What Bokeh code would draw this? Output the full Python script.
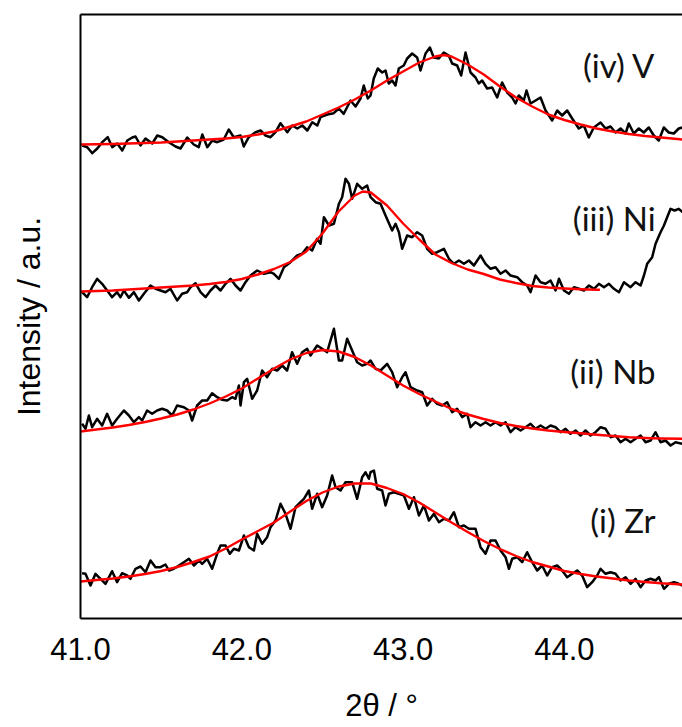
from bokeh.plotting import figure
from bokeh.models import Range1d, FixedTicker, LinearAxis, Label, PrintfTickFormatter
from bokeh.embed import file_html
from bokeh.resources import INLINE

# ---------------- data (2theta in degrees, intensity in a.u.) ----------------
offsets = {"Zr": 0, "Nb": 150, "Ni": 300, "V": 450}
names = ["(i) Zr", "(ii) Nb", "(iii) Ni", "(iv) V"]
keys = ["Zr", "Nb", "Ni", "V"]

# (iv) V measured
tt_V = [41.011, 41.042, 41.073, 41.104, 41.135, 41.169, 41.197, 41.228, 41.259, 41.290,
        41.321, 41.341, 41.372, 41.403, 41.445, 41.476, 41.507, 41.547, 41.589, 41.620,
        41.662, 41.702, 41.733, 41.755, 41.786, 41.817, 41.848, 41.888, 41.919, 41.950,
        41.992, 42.012, 42.043, 42.085, 42.116, 42.147, 42.178, 42.209, 42.240, 42.282,
        42.312, 42.344, 42.375, 42.406, 42.437, 42.468, 42.488, 42.530, 42.570, 42.601,
        42.632, 42.674, 42.705, 42.736, 42.756, 42.781,
        42.798, 42.818, 42.843, 42.870, 42.891, 42.911, 42.932, 42.953, 42.973, 43.004,
        43.025, 43.056, 43.087, 43.108, 43.139, 43.166, 43.190, 43.221, 43.252, 43.283,
        43.304, 43.335, 43.360, 43.387, 43.418, 43.449, 43.469, 43.490, 43.521, 43.552,
        43.583, 43.614, 43.645, 43.676, 43.697, 43.717, 43.748, 43.765, 43.790, 43.821,
        43.852, 43.883, 43.924, 43.955, 43.986, 44.017, 44.048, 44.089, 44.120, 44.151,
        44.182, 44.224, 44.255, 44.286, 44.317, 44.348, 44.379, 44.399, 44.430, 44.461,
        44.492, 44.523, 44.554, 44.585, 44.616, 44.647, 44.678, 44.709, 44.732]
int_V = [23, 21.3, 15.3, 20, 26.3, 31.3, 21.3, 25, 18, 28, 31, 32, 23, 30, 25, 33, 31.3, 26.3,
         22, 20, 31, 24, 21.3, 34, 21.3, 28, 26.3, 29, 39, 31.3, 33, 22, 31.3, 36.3, 38, 33,
         31.3, 36.3, 45.3, 36.3, 43, 40, 43, 38, 46.3, 43, 51.3, 54, 55.3, 60, 54.7, 68, 62,
         70, 83, 70,
         73, 90, 100, 96, 98, 85, 88, 83, 100, 103, 110, 115, 111, 98, 115, 121, 111, 110,
         116, 113, 105, 103, 93, 116, 96, 91, 85, 88, 80, 81, 71, 86, 76, 71, 65, 73, 68, 78,
         65, 68, 71, 58, 48, 58, 53, 58, 50, 40, 43, 31, 41, 46, 40, 42, 36, 40, 35, 45, 35,
         40, 36, 41, 33, 28, 41, 36, 35, 40, 41]

# (iii) Ni measured
tt_Ni = [41.010, 41.041, 41.072, 41.103, 41.134, 41.165, 41.196, 41.227, 41.248, 41.269,
         41.300, 41.331, 41.362, 41.393, 41.434, 41.465, 41.496, 41.527, 41.558, 41.599,
         41.630, 41.661, 41.682, 41.713, 41.744, 41.775, 41.806, 41.837, 41.868, 41.899,
         41.930, 41.961, 41.992, 42.023, 42.054, 42.095, 42.137, 42.178, 42.199, 42.230,
         42.261, 42.302, 42.343, 42.374, 42.405, 42.436, 42.467, 42.488, 42.509, 42.540,
         42.571, 42.602, 42.622, 42.643, 42.664, 42.684, 42.715, 42.746, 42.777,
         42.798, 42.829, 42.860, 42.891, 42.932, 42.953, 42.974, 42.994, 43.025, 43.056,
         43.087, 43.118, 43.149, 43.180, 43.211, 43.253, 43.284, 43.315, 43.346, 43.377,
         43.408, 43.439, 43.480, 43.511, 43.542, 43.573, 43.604, 43.635, 43.666, 43.707,
         43.738, 43.769, 43.790, 43.821, 43.852, 43.883, 43.914, 43.945, 43.966, 43.997,
         44.028, 44.059, 44.090, 44.121, 44.152, 44.183, 44.214, 44.245, 44.276, 44.307,
         44.338, 44.369, 44.410, 44.441, 44.472, 44.493, 44.513, 44.544, 44.565, 44.596,
         44.617, 44.637, 44.658, 44.683, 44.709, 44.732]
int_Ni = [26.3, 21.3, 31.3, 39.7, 34.7, 28, 21.3, 26.3, 21.3, 28, 20.7, 26.3, 18, 24.7, 33,
          29.7, 28, 26.3, 29.7, 18, 24.7, 26.3, 31.3, 35.3, 26.3, 21.3, 28, 33, 28, 34.7,
          39.7, 33, 28, 36.3, 43, 48, 44.7, 46.3, 44.7, 39.7, 51.3, 56.3, 63, 64.7, 71.3, 68,
          79.7, 74.7, 101.3, 93, 94.7, 114.7, 121.3, 139.7, 134.7, 119.7, 134.7, 129.7, 133,
          121.3, 116.3, 114.7, 103, 88, 94.7, 86.3, 69.7, 83, 81.3, 86.3, 83, 69.7, 64.7, 66.3,
          69.7, 59.7, 54.7, 58, 54.7, 58, 53, 63, 54.7, 49.7, 51.3, 44.7, 48, 43, 41.3, 36.3,
          33, 26.3, 43, 36.3, 34.7, 38, 28, 39.7, 28, 24.7, 31.3, 29.7, 28, 33, 29.7, 34.7,
          31.3, 34.7, 29.7, 26.3, 36.3, 31.3, 36.3, 33, 43, 54.7, 61.3, 74.7, 86.3, 93, 101.3,
          109.7, 108, 109.7, 106.3]

# (ii) Nb measured
tt_Nb = [41.010, 41.031, 41.052, 41.072, 41.103, 41.134, 41.165, 41.196, 41.227, 41.269,
         41.300, 41.331, 41.362, 41.382, 41.413, 41.444, 41.475, 41.506, 41.537, 41.568,
         41.599, 41.641, 41.672, 41.692, 41.723, 41.754, 41.785, 41.816, 41.847, 41.878,
         41.909, 41.940, 41.961, 41.982, 41.992, 42.013, 42.033, 42.064, 42.095, 42.126,
         42.157, 42.188, 42.219, 42.250, 42.281, 42.312, 42.343, 42.374, 42.405, 42.426,
         42.467, 42.498, 42.529, 42.571, 42.602, 42.622, 42.653, 42.684, 42.715, 42.746,
         42.777,
         42.798, 42.829, 42.860, 42.901, 42.932, 42.963, 42.994, 43.015, 43.046, 43.087,
         43.118, 43.149, 43.180, 43.211, 43.242, 43.273, 43.304, 43.335, 43.366, 43.397,
         43.418, 43.449, 43.480, 43.511, 43.542, 43.573, 43.604, 43.635, 43.666, 43.697,
         43.728, 43.759, 43.790, 43.821, 43.852, 43.883, 43.914, 43.945, 43.976, 44.007,
         44.038, 44.069, 44.100, 44.131, 44.162, 44.193, 44.224, 44.255, 44.286, 44.317,
         44.348, 44.379, 44.410, 44.441, 44.472, 44.503, 44.534, 44.565, 44.596, 44.627,
         44.658, 44.689, 44.732]
int_Nb = [44.7, 39.7, 53, 41.3, 49.7, 43, 54.7, 43, 49.7, 58, 53, 46.3, 51.3, 48, 58, 54.7,
          58, 59.7, 58, 53, 63, 61.3, 58, 48, 63, 68, 68, 75.3, 71.3, 68.7, 68, 71.3, 69.7,
          83, 63, 86.3, 89.7, 69.7, 78, 98, 91.3, 99.7, 98, 103, 98, 116.3, 104.7, 116.3,
          119.7, 113, 123, 119.7, 116.3, 139.7, 108, 108, 129.7, 118, 106.3, 103, 104.7,
          108, 99.7, 98, 104.7, 96.3, 81.3, 91.3, 96.3, 81.3, 78, 76.3, 63, 69.7, 64.7, 63,
          66.3, 56.3, 59.7, 51.3, 54.7, 41.3, 46.3, 43, 46.3, 43, 46.3, 43, 46.3, 36.3, 41.3,
          38, 41.3, 44.7, 39.7, 43, 39.7, 43, 41.3, 36.3, 39.7, 34.7, 38, 33, 38, 33, 36.3,
          41.3, 39.7, 31.3, 33, 26.3, 29.7, 26.3, 29.7, 33, 26.3, 28, 36.3, 26.3, 28, 23,
          26.3, 24.7]

# (i) Zr measured
tt_Zr = [41.010, 41.031, 41.062, 41.093, 41.124, 41.155, 41.196, 41.227, 41.258, 41.289,
         41.310, 41.341, 41.372, 41.403, 41.434, 41.465, 41.496, 41.527, 41.548, 41.579,
         41.610, 41.641, 41.672, 41.703, 41.734, 41.754, 41.785, 41.816, 41.847, 41.868,
         41.899, 41.926, 41.951, 41.982, 42.013, 42.044, 42.075, 42.095, 42.126, 42.157,
         42.178, 42.209, 42.240, 42.271, 42.302, 42.333, 42.364, 42.385, 42.416, 42.436,
         42.467, 42.498, 42.529, 42.560, 42.581, 42.612, 42.643, 42.684, 42.715, 42.746,
         42.767, 42.788,
         42.798, 42.819, 42.839, 42.870, 42.891, 42.912, 42.943, 42.974, 43.005, 43.036,
         43.067, 43.098, 43.129, 43.160, 43.191, 43.222, 43.253, 43.284, 43.315, 43.346,
         43.377, 43.408, 43.449, 43.480, 43.511, 43.542, 43.573, 43.604, 43.635, 43.656,
         43.676, 43.707, 43.738, 43.769, 43.800, 43.831, 43.862, 43.893, 43.924, 43.955,
         43.986, 44.017, 44.048, 44.079, 44.110, 44.141, 44.172, 44.203, 44.224, 44.255,
         44.286, 44.317, 44.348, 44.379, 44.410, 44.441, 44.472, 44.503, 44.534, 44.565,
         44.586, 44.617, 44.648, 44.679, 44.709, 44.732]
int_Zr = [45.3, 44.7, 33, 44.7, 39.7, 34.7, 47.3, 36.3, 45.3, 43, 39.7, 49.7, 52, 46.3, 58,
          51.3, 51.3, 54, 48, 49.7, 53, 56.3, 59.7, 53, 58, 54.7, 59.7, 49.7, 64.7, 73, 73,
          64.7, 69.7, 68, 83, 71.3, 68, 84.7, 74.7, 81.3, 91.3, 98, 114.7, 104.7, 89.7, 111.3,
          116.3, 119.7, 128, 109.7, 124.7, 111.3, 123, 143, 131.3, 128, 136.3, 136.3, 119.7,
          141.3, 146.3, 139.7,
          146.3, 148, 129.7, 128, 113, 124.7, 126.3, 124.7, 123, 109.7, 121.3, 103, 113, 98,
          104.7, 96.3, 99.7, 98, 106.3, 91.3, 93, 89.7, 89.7, 71.3, 64.7, 78, 78, 68, 61.3,
          49.7, 59.7, 61.3, 56.3, 66.3, 56.3, 48, 53, 43, 51.3, 53, 48, 41.3, 44.7, 48, 43,
          31.3, 36.3, 43, 49.7, 44.7, 46.3, 44.7, 38, 41.3, 34.7, 39.7, 31.3, 38, 39.7, 38,
          41.3, 29.7, 34.7, 36.3, 34.7, 33]

# fitted profiles (red)
fit_tt_V = [41.0, 41.1, 41.2, 41.3, 41.4, 41.5, 41.6, 41.7, 41.8, 41.9, 42.0, 42.1, 42.2,
            42.3, 42.4, 42.5, 42.6, 42.7, 42.8, 42.9, 43.0, 43.1, 43.2, 43.25, 43.3, 43.4,
            43.5, 43.6, 43.7, 43.8, 43.9, 44.0, 44.1, 44.2, 44.3, 44.4, 44.5, 44.6, 44.7, 44.732]
fit_V = [24, 24.2, 24.5, 25, 25.5, 26, 27, 28, 29, 30, 31.5, 34, 37, 42, 47, 54, 61, 69, 78,
         88, 97, 106, 112, 113.5, 112, 104, 94, 82, 71, 62, 54, 48.5, 44, 40, 37, 34.5, 32.5,
         31, 29.5, 29]
fit_tt_Ni = [41.0, 41.1, 41.2, 41.3, 41.4, 41.5, 41.6, 41.7, 41.8, 41.9, 42.0, 42.1, 42.2,
             42.3, 42.4, 42.5, 42.6, 42.7, 42.75, 42.8, 42.9, 43.0, 43.1, 43.2, 43.3, 43.4,
             43.5, 43.6, 43.7, 43.8, 43.9, 44.0, 44.1, 44.2, 44.22]
fit_Ni = [27, 27.5, 28, 29, 30, 31, 32, 33, 34.5, 36.5, 39.5, 44, 49.5, 56.5, 67, 85, 107,
          123, 127, 126, 113, 95, 79, 64, 55.5, 49, 44.5, 39, 35.5, 32.5, 31, 30, 29.3, 28.7,
          28.7]
fit_tt_Nb = [41.0, 41.1, 41.2, 41.3, 41.4, 41.5, 41.6, 41.7, 41.8, 41.9, 42.0, 42.1, 42.2,
             42.3, 42.4, 42.5, 42.6, 42.7, 42.8, 42.9, 43.0, 43.1, 43.2, 43.3, 43.4, 43.5,
             43.6, 43.7, 43.8, 43.9, 44.0, 44.1, 44.2, 44.3, 44.4, 44.5, 44.6, 44.732]
fit_Nb = [37, 39, 41, 43.5, 46.5, 50, 54, 59, 65, 72, 80, 90, 100, 109, 115.5, 118.5, 117,
          111.5, 103, 93, 83, 74.5, 67, 59.5, 54, 49.5, 45.5, 42.5, 40, 38, 36.5, 35.2, 33.8,
          32.5, 31.3, 30.5, 30, 29.7]
fit_tt_Zr = list(fit_tt_Nb)
fit_Zr = [37, 38.5, 40, 42, 44.5, 47.5, 51.5, 56.5, 62, 70, 79, 87.5, 96, 107, 117.5, 126,
          132, 135, 135, 130.5, 124.5, 116, 106, 96, 86.5, 77.5, 69.5, 62.5, 56.5, 52, 47.5,
          44.5, 42, 40, 38, 36.5, 35.2, 34]

x_ticks = [41.0, 42.0, 43.0, 44.0]

measured = {"V": (tt_V, int_V), "Ni": (tt_Ni, int_Ni), "Nb": (tt_Nb, int_Nb), "Zr": (tt_Zr, int_Zr)}
fitted = {"V": (fit_tt_V, fit_V), "Ni": (fit_tt_Ni, fit_Ni), "Nb": (fit_tt_Nb, fit_Nb), "Zr": (fit_tt_Zr, fit_Zr)}
label_pos = {"Zr": (44.565, 99), "Nb": (44.565, 248), "Ni": (44.565, 401), "V": (44.565, 554)}

# ---------------- figure ----------------
p = figure(width=682, height=727, x_range=Range1d(41.0, 44.732), y_range=Range1d(0, 604),
           output_backend="svg", toolbar_location=None,
           min_border_left=80, min_border_right=0, min_border_top=14, min_border_bottom=109)
p.outline_line_color = None
p.grid.visible = False
p.background_fill_color = "white"
p.border_fill_color = "white"

for k in keys:
    xs, ys = measured[k]
    p.line(xs, [v + offsets[k] for v in ys], line_color="black", line_width=2.5, line_join="round")
for k in keys:
    xs, ys = fitted[k]
    p.line(xs, [v + offsets[k] for v in ys], line_color="#ff0000", line_width=2.4, line_join="round")

for k, nm in zip(keys, names):
    lx, ly = label_pos[k]
    p.add_layout(Label(x=lx, y=ly, text=nm, text_align="right", text_baseline="middle",
                       text_font="Lato", text_font_size="33px", text_color="#111111"))

xa = p.xaxis[0]
xa.ticker = FixedTicker(ticks=x_ticks)
xa.formatter = PrintfTickFormatter(format="%.1f")
xa.major_label_text_font = "Liberation Sans"
xa.major_label_text_font_size = "31px"
xa.major_label_text_color = "black"
xa.major_label_standoff = 19
xa.axis_line_width = 2
xa.major_tick_out = 0
xa.major_tick_in = 0
xa.minor_tick_out = 0
xa.minor_tick_in = 0
xa.axis_label = "2θ / °"
xa.axis_label_text_font = "Liberation Sans"
xa.axis_label_text_font_size = "31px"
xa.axis_label_text_font_style = "normal"
xa.axis_label_text_color = "black"
xa.axis_label_standoff = 25

ya = p.yaxis[0]
ya.ticker = FixedTicker(ticks=[])
ya.axis_label = "Intensity / a.u."
ya.axis_label_text_font = "Liberation Sans"
ya.axis_label_text_font_size = "32px"
ya.axis_label_text_font_style = "normal"
ya.axis_label_text_color = "black"
ya.axis_label_standoff = 34
ya.axis_line_width = 2
ya.major_tick_out = 0
ya.major_tick_in = 0
ya.minor_tick_out = 0
ya.minor_tick_in = 0

top = LinearAxis(ticker=FixedTicker(ticks=[]), axis_line_width=2,
                 major_tick_out=0, major_tick_in=0, minor_tick_out=0, minor_tick_in=0)
p.add_layout(top, "above")

open("out.html", "w").write(file_html(p, INLINE))
